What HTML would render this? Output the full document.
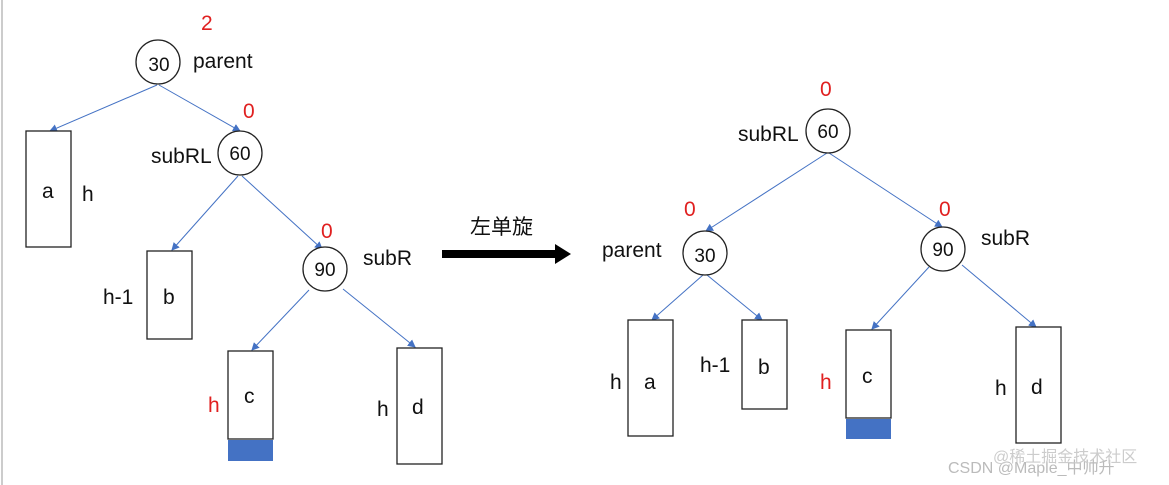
<!DOCTYPE html>
<html><head><meta charset="utf-8"><style>
html,body{margin:0;padding:0;background:#fff;}
svg{display:block;font-family:"Liberation Sans","Noto Sans CJK SC",sans-serif;}
</style></head><body>
<svg width="1169" height="485" viewBox="0 0 1169 485" xmlns="http://www.w3.org/2000/svg">
<defs>
<marker id="ar" markerWidth="8" markerHeight="8" refX="7" refY="4" orient="auto" markerUnits="userSpaceOnUse">
<path d="M0,0 L8,4 L0,8 Z" fill="#4472c4"/></marker>
</defs>
<line x1="2" y1="0" x2="2" y2="485" stroke="#ccc" stroke-width="2"/>
<g stroke="#4472c4" stroke-width="1" marker-end="url(#ar)">
<line x1="157" y1="85" x2="50" y2="131"/>
<line x1="159" y1="85" x2="240" y2="131"/>
<line x1="238" y1="176" x2="172" y2="250"/>
<line x1="242" y1="176" x2="322" y2="249"/>
<line x1="309" y1="290" x2="252" y2="350"/>
<line x1="343" y1="289" x2="415" y2="347"/>
<line x1="827" y1="153" x2="706" y2="231"/>
<line x1="829" y1="153" x2="942" y2="227"/>
<line x1="703" y1="275" x2="652" y2="320"/>
<line x1="707" y1="275" x2="762" y2="320"/>
<line x1="929" y1="267" x2="872" y2="329"/>
<line x1="962" y1="265" x2="1036" y2="327"/>
</g>
<g fill="#fff" stroke="#222" stroke-width="1.3">
<circle cx="158" cy="62" r="22"/>
<circle cx="240" cy="153" r="22"/>
<circle cx="325" cy="269" r="22"/>
<circle cx="828" cy="131" r="22"/>
<circle cx="705" cy="253" r="22"/>
<circle cx="943" cy="249" r="22"/>
<rect x="26" y="131" width="45" height="116"/>
<rect x="147" y="251" width="45" height="88"/>
<rect x="228" y="351" width="45" height="88"/>
<rect x="397" y="348" width="45" height="116"/>
<rect x="628" y="320" width="45" height="116"/>
<rect x="742" y="320" width="45" height="89"/>
<rect x="846" y="330" width="45" height="88"/>
<rect x="1016" y="327" width="45" height="116"/>
</g>
<rect x="228" y="440" width="45" height="21" fill="#4472c4"/>
<rect x="846" y="419" width="45" height="20" fill="#4472c4"/>
<polygon points="442,250 555,250 555,244 571,254 555,264 555,258 442,258" fill="#000"/>
<g font-size="19" fill="#111" text-anchor="middle">
<text x="159" y="71">30</text>
<text x="240" y="160">60</text>
<text x="325" y="276">90</text>
<text x="828" y="138">60</text>
<text x="705" y="262">30</text>
<text x="943" y="256">90</text>
</g>
<g font-size="21" fill="#111">
<text x="193" y="68">parent</text>
<text x="151" y="163">subRL</text>
<text x="363" y="265">subR</text>
<text x="42" y="198">a</text>
<text x="82" y="201">h</text>
<text x="103" y="304">h-1</text>
<text x="163" y="304">b</text>
<text x="244" y="403">c</text>
<text x="412" y="414">d</text>
<text x="377" y="416">h</text>
<text x="738" y="141">subRL</text>
<text x="602" y="257">parent</text>
<text x="981" y="245">subR</text>
<text x="644" y="389">a</text>
<text x="610" y="389">h</text>
<text x="758" y="374">b</text>
<text x="700" y="372">h-1</text>
<text x="862" y="383">c</text>
<text x="1031" y="394">d</text>
<text x="995" y="395">h</text>
<text x="470" y="234" font-size="21">左单旋</text>
</g>
<g font-size="21" fill="#e02020">
<text x="201" y="30">2</text>
<text x="243" y="118">0</text>
<text x="321" y="238">0</text>
<text x="208" y="412">h</text>
<text x="820" y="96">0</text>
<text x="684" y="216">0</text>
<text x="939" y="216">0</text>
<text x="820" y="389">h</text>
</g>
<text x="948" y="473" font-size="16" fill="#bbb">CSDN @Maple_中帅升</text>
<text x="993" y="462" font-size="16" fill="#ccc">@稀土掘金技术社区</text>
</svg>
</body></html>
